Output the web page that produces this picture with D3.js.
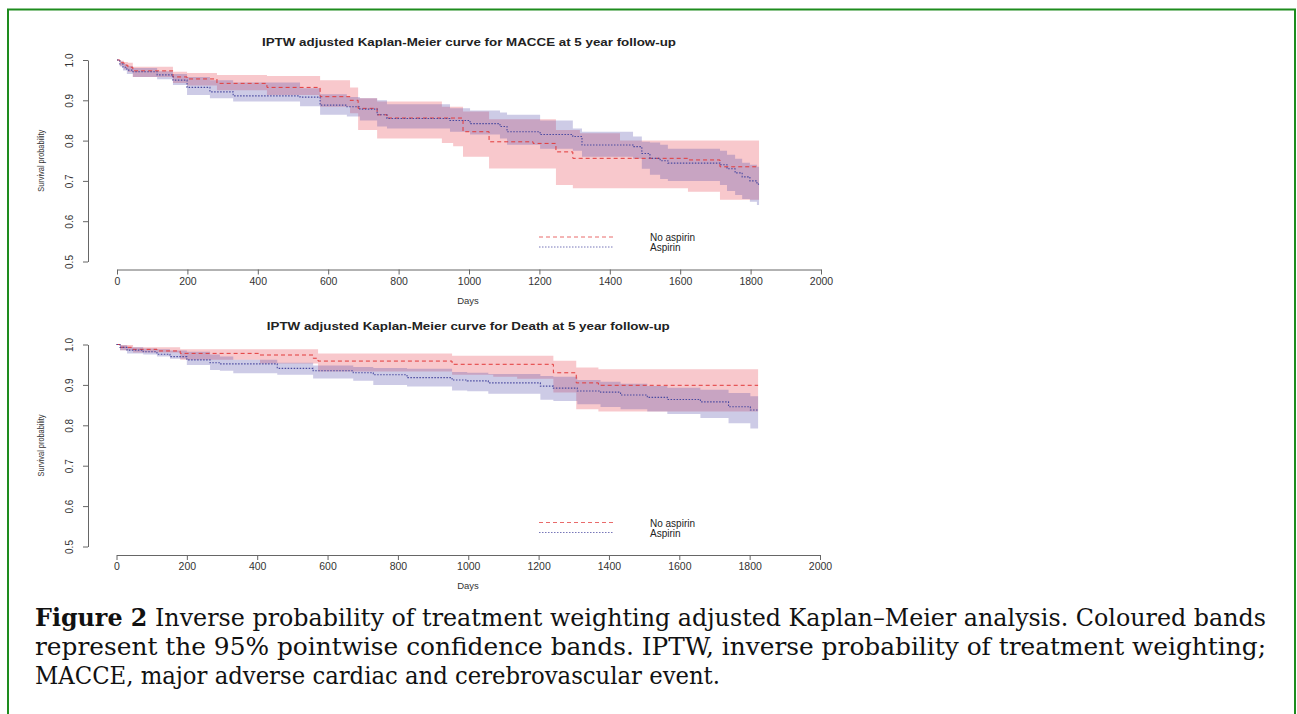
<!DOCTYPE html>
<html>
<head>
<meta charset="utf-8">
<script src="https://cdn.jsdelivr.net/npm/d3@7"></script>
<style>
  body { margin: 0; background: #fff; }
  svg { display: block; }
</style>
</head>
<body>
<svg id="fig" width="1297" height="714"></svg>
<script>
// axis ticks
var dayTicks = [0, 200, 400, 600, 800, 1000, 1200, 1400, 1600, 1800, 2000];
var survTicks = [0.5, 0.6, 0.7, 0.8, 0.9, 1.0];
var groups = ["No aspirin", "Aspirin"];
var lastDay = 1824;

// MACCE - no aspirin (time, survival, upper, lower)
var maccNoAspT = [0, 8, 20, 31, 45, 159, 199, 284, 426, 577, 662, 685, 739, 767, 923, 955, 983, 1057, 1182, 1247, 1295, 1315, 1429, 1622, 1713];
var maccNoAspS = [1, .993, .987, .982, .973, .958, .953, .942, .932, .909, .900, .880, .864, .856, .856, .856, .822, .797, .793, .772, .756, .756, .756, .752, .735];
var maccNoAspU = [1, .998, .995, .993, .983, .971, .968, .963, .960, .950, .932, .905, .897, .897, .884, .884, .872, .853, .853, .826, .826, .818, .800, .800, .800];
var maccNoAspL = [1, .986, .977, .970, .958, .943, .937, .925, .913, .884, .868, .826, .805, .805, .794, .786, .760, .731, .731, .690, .682, .682, .682, .673, .653];

// MACCE - aspirin
var maccAspT = [0, 8, 17, 28, 45, 114, 159, 199, 264, 330, 520, 577, 653, 690, 739, 767, 946, 1003, 1088, 1108, 1202, 1295, 1321, 1466, 1491, 1514, 1543, 1565, 1713, 1733, 1756, 1776, 1798, 1818];
var maccAspS = [1, .990, .982, .975, .971, .963, .950, .932, .921, .911, .908, .888, .884, .878, .864, .855, .850, .842, .835, .822, .815, .810, .789, .785, .768, .756, .750, .744, .740, .730, .720, .710, .700, .692];
var maccAspU = [1, .996, .990, .985, .980, .972, .965, .958, .950, .944, .930, .915, .908, .905, .900, .890, .880, .875, .870, .864, .850, .830, .822, .810, .797, .795, .790, .780, .775, .765, .755, .745, .740, .735];
var maccAspL = [1, .984, .974, .965, .958, .952, .938, .913, .905, .897, .885, .864, .860, .850, .835, .830, .822, .815, .805, .790, .780, .775, .760, .755, .730, .715, .705, .700, .690, .675, .665, .655, .648, .640];

// Death - no aspirin
var deathNoAspT = [0, 10, 47, 115, 181, 408, 559, 573, 954, 1071, 1139, 1242, 1307, 1370];
var deathNoAspS = [1, .993, .988, .984, .978, .974, .966, .959, .951, .951, .951, .930, .905, .899];
var deathNoAspU = [1, .999, .993, .993, .988, .988, .988, .978, .972, .972, .972, .960, .943, .939];
var deathNoAspL = [1, .986, .980, .980, .962, .953, .953, .933, .925, .920, .915, .881, .840, .834];

// Death - aspirin
var deathAspT = [0, 10, 30, 76, 115, 152, 200, 266, 294, 332, 457, 559, 673, 730, 826, 954, 997, 1057, 1205, 1242, 1310, 1376, 1433, 1509, 1566, 1660, 1740, 1802];
var deathAspS = [1, .993, .986, .982, .976, .970, .962, .955, .952, .952, .941, .935, .930, .925, .918, .912, .910, .905, .897, .892, .885, .882, .875, .869, .864, .858, .846, .838];
var deathAspU = [1, .998, .993, .990, .988, .985, .982, .975, .970, .962, .955, .948, .944, .942, .940, .932, .930, .927, .922, .920, .912, .908, .903, .897, .893, .888, .880, .872];
var deathAspL = [1, .986, .978, .975, .970, .965, .949, .937, .935, .929, .925, .916, .910, .900, .896, .886, .884, .878, .863, .860, .852, .845, .840, .834, .828, .818, .805, .792];

var redLine = "#e23a3a", blueLine = "#4a4aa0";
var redFill = "rgba(232,72,85,0.3)", blueFill = "rgba(88,82,172,0.3)";
var sans = "'Liberation Sans', Arial, sans-serif";

var svg = d3.select("#fig");

// green frame
svg.append("rect")
  .attr("x", 8).attr("y", 9.5).attr("width", 1287).attr("height", 720)
  .attr("fill", "none").attr("stroke", "#1e8c1e").attr("stroke-width", 2);

function series(T, S, U, L) {
  var rows = T.map(function (t, i) { return { t: t, s: S[i], u: U[i], l: L[i] }; });
  var last = rows[rows.length - 1];
  rows.push({ t: lastDay, s: last.s, u: last.u, l: last.l });
  return rows;
}

function panel(cfg) {
  var x = d3.scaleLinear().domain([0, 2000]).range([cfg.x0, cfg.x1]);
  var y = d3.scaleLinear().domain([0.5, 1]).range([cfg.y0, cfg.y1]);
  var g = svg.append("g");

  var area = d3.area().curve(d3.curveStepAfter)
    .x(function (d) { return x(d.t); })
    .y0(function (d) { return y(d.l); })
    .y1(function (d) { return y(d.u); });
  var line = d3.line().curve(d3.curveStepAfter)
    .x(function (d) { return x(d.t); })
    .y(function (d) { return y(d.s); });

  g.append("path").datum(cfg.red).attr("d", area).attr("fill", redFill);
  g.append("path").datum(cfg.blue).attr("d", area).attr("fill", blueFill);
  g.append("path").datum(cfg.red).attr("d", line).attr("fill", "none")
    .attr("stroke", redLine).attr("stroke-width", 1).attr("stroke-dasharray", "4,3");
  g.append("path").datum(cfg.blue).attr("d", line).attr("fill", "none")
    .attr("stroke", blueLine).attr("stroke-width", 1.1).attr("stroke-dasharray", "1.5,1.5");

  // x axis
  var xa = g.append("g").attr("transform", "translate(0," + cfg.xAxisY + ")")
    .call(d3.axisBottom(x).tickValues(dayTicks).tickFormat(d3.format("d"))
      .tickSize(5).tickPadding(3).tickSizeOuter(0));
  xa.select(".domain").attr("stroke", "#666");
  xa.selectAll(".tick line").attr("stroke", "#666");
  xa.selectAll("text").attr("font-family", sans).attr("font-size", 10.5).attr("fill", "#333");

  // y axis
  var ya = g.append("g").attr("transform", "translate(" + cfg.yAxisX + ",0)")
    .call(d3.axisLeft(y).tickValues(survTicks).tickFormat(d3.format(".1f")).tickSize(5).tickSizeOuter(0));
  ya.select(".domain").attr("stroke", "#666");
  ya.selectAll(".tick line").attr("stroke", "#666");
  ya.selectAll("text")
    .attr("font-family", sans).attr("font-size", 10).attr("fill", "#333")
    .attr("text-anchor", "middle").attr("dy", null)
    .attr("x", null)
    .attr("transform", "translate(-19,0) rotate(-90)")
    .attr("dominant-baseline", "central");

  g.append("text")
    .attr("x", (cfg.x0 + cfg.x1) / 2).attr("y", cfg.titleY)
    .attr("text-anchor", "middle").attr("font-family", sans)
    .attr("font-weight", "bold").attr("font-size", 11).attr("fill", "#222")
    .attr("textLength", cfg.titleLen).attr("lengthAdjust", "spacingAndGlyphs")
    .text(cfg.title);

  g.append("text")
    .attr("transform", "translate(44," + ((cfg.y0 + cfg.y1) / 2) + ") rotate(-90)")
    .attr("text-anchor", "middle").attr("font-family", sans)
    .attr("font-size", 8.5).attr("fill", "#333")
    .attr("textLength", 62).attr("lengthAdjust", "spacingAndGlyphs")
    .text("Survival probability");

  g.append("text")
    .attr("x", 468).attr("y", cfg.xAxisY + 34)
    .attr("text-anchor", "middle").attr("font-family", sans)
    .attr("font-size", 9.5).attr("fill", "#333")
    .text("Days");

  // legend
  var lg = g.append("g");
  [redLine, blueLine].forEach(function (c, i) {
    var ly = cfg.legendY + i * 10;
    lg.append("line").attr("x1", 539).attr("x2", 613).attr("y1", ly).attr("y2", ly)
      .attr("stroke", c).attr("stroke-opacity", 0.75).attr("stroke-width", 1)
      .attr("stroke-dasharray", i === 0 ? "4,3" : "1.5,1.5");
    lg.append("text").attr("x", 650).attr("y", ly + 4)
      .attr("font-family", sans).attr("font-size", 10).attr("fill", "#222")
      .text(groups[i]);
  });
}

panel({
  x0: 117, x1: 821, y0: 261.5, y1: 60, xAxisY: 269.5, yAxisX: 88,
  titleY: 46, titleLen: 414, legendY: 237,
  title: "IPTW adjusted Kaplan-Meier curve for MACCE at 5 year follow-up",
  red: series(maccNoAspT, maccNoAspS, maccNoAspU, maccNoAspL),
  blue: series(maccAspT, maccAspS, maccAspU, maccAspL)
});

panel({
  x0: 116.5, x1: 820, y0: 546.5, y1: 344.5, xAxisY: 555, yAxisX: 88,
  titleY: 330, titleLen: 403, legendY: 522.5,
  title: "IPTW adjusted Kaplan-Meier curve for Death at 5 year follow-up",
  red: series(deathNoAspT, deathNoAspS, deathNoAspU, deathNoAspL),
  blue: series(deathAspT, deathAspS, deathAspU, deathAspL)
});

// caption
var serif = "Georgia, 'DejaVu Serif', serif";
var capLines = [
  { b: "Figure 2", t: " Inverse probability of treatment weighting adjusted Kaplan\u2013Meier analysis. Coloured bands", len: 1231 },
  { b: "", t: "represent the 95% pointwise confidence bands. IPTW, inverse probability of treatment weighting;", len: 1231 },
  { b: "", t: "MACCE, major adverse cardiac and cerebrovascular event.", len: 685 }
];
capLines.forEach(function (c, i) {
  var tx = svg.append("text")
    .attr("x", 35).attr("y", 626 + i * 29)
    .attr("font-family", serif).attr("font-size", 23.5).attr("fill", "#111")
    .attr("textLength", c.len).attr("lengthAdjust", "spacingAndGlyphs");
  if (c.b) tx.append("tspan").attr("font-weight", "bold").text(c.b);
  tx.append("tspan").text(c.t);
});
</script>
</body>
</html>
